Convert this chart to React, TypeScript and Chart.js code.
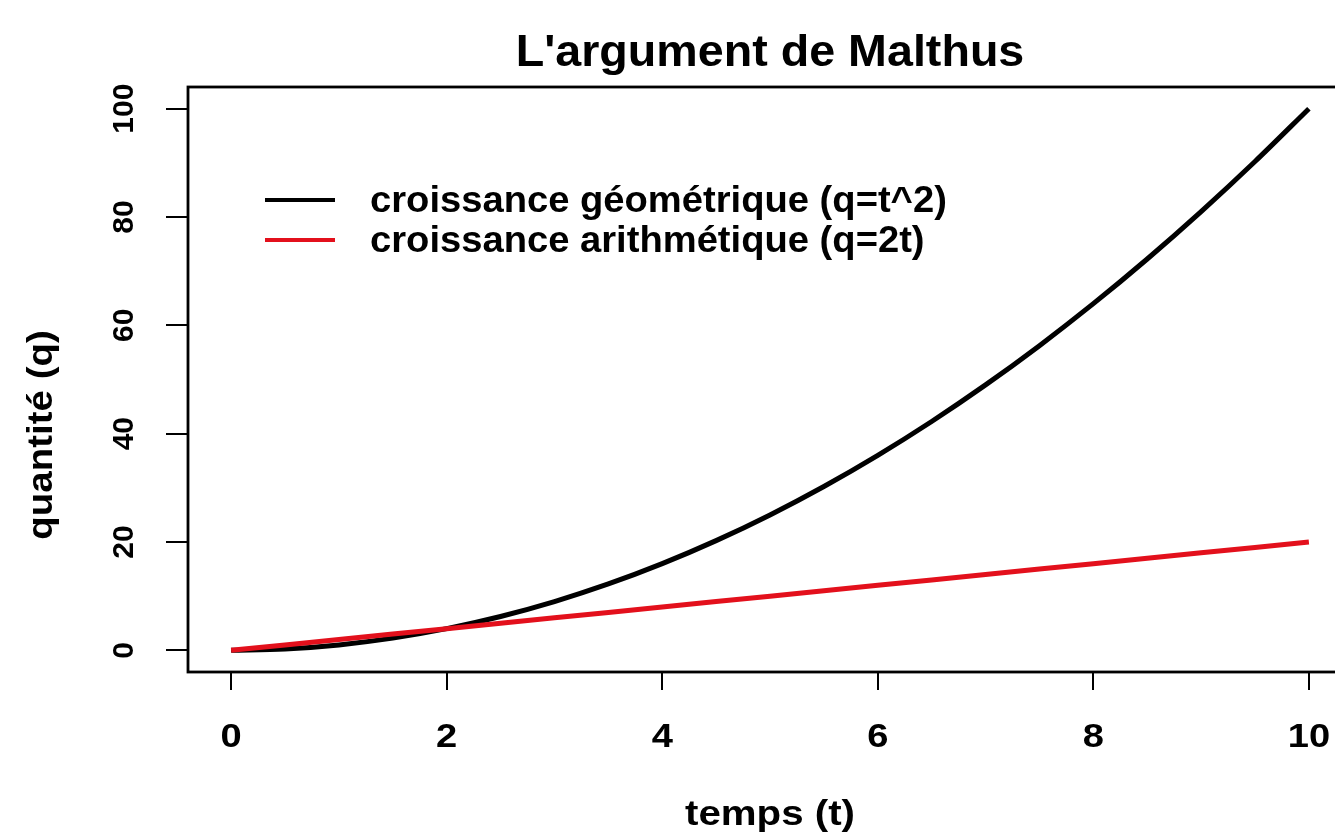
import React, { useEffect, useRef } from "react";
import { Chart, registerables } from "chart.js";

Chart.register(...registerables);

const TITLE = "L'argument de Malthus";
const X_TITLE = "temps (t)";
const Y_TITLE = "quantité (q)";
const SERIES_LABELS = ["croissance géométrique (q=t^2)", "croissance arithmétique (q=2t)"];
const SERIES_COLORS = ["#000000", "#e3101c"];

const T_VALUES = [0, 0.5, 1, 1.5, 2, 2.5, 3, 3.5, 4, 4.5, 5, 5.5, 6, 6.5, 7, 7.5, 8, 8.5, 9, 9.5, 10];
const Q_GEOMETRIC = [0, 0.25, 1, 2.25, 4, 6.25, 9, 12.25, 16, 20.25, 25, 30.25, 36, 42.25, 49, 56.25, 64, 72.25, 81, 90.25, 100];
const Q_ARITHMETIC = [0, 1, 2, 3, 4, 5, 6, 7, 8, 9, 10, 11, 12, 13, 14, 15, 16, 17, 18, 19, 20];

const X_TICKS = [0, 2, 4, 6, 8, 10];
const Y_TICKS = [0, 20, 40, 60, 80, 100];

const FONT = '"Liberation Sans", Arial, sans-serif';

function drawText(
  ctx: CanvasRenderingContext2D,
  text: string,
  x: number,
  y: number,
  size: number,
  sx: number,
  rot: number,
  align: CanvasTextAlign
) {
  ctx.save();
  ctx.translate(x, y);
  if (rot) ctx.rotate(rot);
  ctx.scale(sx, 1);
  ctx.font = `bold ${size}px ${FONT}`;
  ctx.textAlign = align;
  ctx.textBaseline = "alphabetic";
  ctx.fillStyle = "#000";
  ctx.fillText(text, 0, 0);
  ctx.restore();
}

const decorations = {
  id: "rDecorations",
  afterDraw(chart: any) {
    const ctx: CanvasRenderingContext2D = chart.ctx;
    const { left, right, top, bottom } = chart.chartArea;
    const xs = chart.scales.x;
    const ys = chart.scales.y;

    // plot box
    ctx.save();
    ctx.strokeStyle = "#000";
    ctx.lineWidth = 2.8;
    ctx.strokeRect(left, top, right - left, bottom - top);
    ctx.restore();

    // title
    drawText(ctx, TITLE, (left + right) / 2, 66, 44, 1.06, 0, "center");

    // x tick labels
    X_TICKS.forEach((v) => {
      drawText(ctx, String(v), xs.getPixelForValue(v), 747, 34, 1.12, 0, "center");
    });
    // y tick labels (rotated, reading upward)
    Y_TICKS.forEach((v) => {
      drawText(ctx, String(v), 133, ys.getPixelForValue(v), 30, 1.0, -Math.PI / 2, "center");
    });

    // axis titles
    drawText(ctx, X_TITLE, (left + right) / 2, 825, 35, 1.15, 0, "center");
    drawText(ctx, Y_TITLE, 52, 435, 35, 1.1, -Math.PI / 2, "center");

    // legend (no box, as in R)
    const legendY = [200, 240];
    SERIES_LABELS.forEach((label, i) => {
      ctx.save();
      ctx.strokeStyle = SERIES_COLORS[i];
      ctx.lineWidth = 4;
      ctx.beginPath();
      ctx.moveTo(265, legendY[i]);
      ctx.lineTo(335, legendY[i]);
      ctx.stroke();
      ctx.restore();
      drawText(ctx, label, 370, legendY[i] + 12, 36, 1.06, 0, "left");
    });
  },
};

export default function App() {
  const canvasRef = useRef<HTMLCanvasElement | null>(null);

  useEffect(() => {
    document.body.style.margin = "0";
    const canvas = canvasRef.current;
    if (!canvas) return;

    const chart = new Chart(canvas, {
      type: "line",
      data: {
        datasets: [
          {
            label: SERIES_LABELS[0],
            data: T_VALUES.map((t, i) => ({ x: t, y: Q_GEOMETRIC[i] })),
            borderColor: SERIES_COLORS[0],
            borderWidth: 5,
            pointRadius: 0,
            cubicInterpolationMode: "monotone",
            fill: false,
            order: 1,
          },
          {
            label: SERIES_LABELS[1],
            data: T_VALUES.map((t, i) => ({ x: t, y: Q_ARITHMETIC[i] })),
            borderColor: SERIES_COLORS[1],
            borderWidth: 5,
            pointRadius: 0,
            fill: false,
            order: 0,
          },
        ],
      },
      options: {
        responsive: false,
        animation: false,
        layout: { padding: { left: 0, top: 87, right: 8, bottom: 0 } },
        plugins: {
          legend: { display: false },
          title: { display: false },
          tooltip: { enabled: false },
        },
        scales: {
          x: {
            type: "linear",
            min: -0.4,
            max: 10.4,
            afterBuildTicks: (s: any) => {
              s.ticks = X_TICKS.map((v) => ({ value: v }));
            },
            afterFit: (s: any) => {
              s.height = 160;
            },
            ticks: { display: false },
            border: { display: false },
            grid: {
              drawOnChartArea: false,
              drawTicks: true,
              tickLength: 18,
              color: "#000",
              lineWidth: 2,
            },
          },
          y: {
            type: "linear",
            min: -4,
            max: 104,
            afterBuildTicks: (s: any) => {
              s.ticks = Y_TICKS.map((v) => ({ value: v }));
            },
            afterFit: (s: any) => {
              s.width = 188;
            },
            ticks: { display: false },
            border: { display: false },
            grid: {
              drawOnChartArea: false,
              drawTicks: true,
              tickLength: 22,
              color: "#000",
              lineWidth: 2,
            },
          },
        },
      },
      plugins: [decorations],
    });

    return () => chart.destroy();
  }, []);

  return (
    <div style={{ width: 1335, height: 832, overflow: "hidden", background: "#fff" }}>
      <canvas ref={canvasRef} width={1360} height={832} style={{ display: "block" }} />
    </div>
  );
}
